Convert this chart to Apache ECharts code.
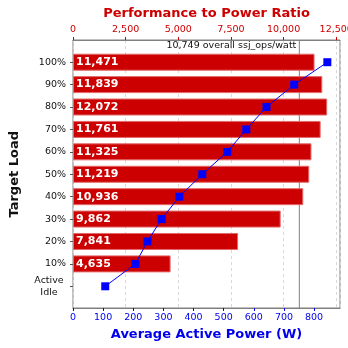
<!DOCTYPE html>
<html><head><meta charset="utf-8">
<script src="https://cdn.jsdelivr.net/npm/echarts@6/dist/echarts.min.js"></script>
<style>html,body{margin:0;padding:0;background:#fff}#c{width:348px;height:348px}</style>
</head><body><div id="c"></div>
<script>
var categories = ['100%', '90%', '80%', '70%', '60%', '50%', '40%', '30%', '20%', '10%', 'Active Idle'];
var ratioValues = [11471, 11839, 12072, 11761, 11325, 11219, 10936, 9862, 7841, 4635, null];
var powerValues = [844, 734, 642, 575, 512, 429, 353, 294, 247, 207, 107];
var overallRatio = 10749;
var powerTicks = {min: 0, max: 886, interval: 100};
var ratioTicks = {min: 0, max: 12680, interval: 2500};

var FONT = 'DejaVu Sans';
var chart = echarts.init(document.getElementById('c'), null, {renderer: 'canvas'});
function fmt(v){ return v.toLocaleString('en-US'); }

var option = {
  animation: false,
  backgroundColor: '#fff',
  textStyle: {fontFamily: FONT},
  grid: [
    {left: 73, right: 8, top: 40, bottom: 40, show: true, borderColor: '#808080', borderWidth: 1, backgroundColor: 'transparent', containLabel: false, outerBoundsMode: 'none'},
    {left: 73, right: 8, top: 51, bottom: 50.5, containLabel: false, outerBoundsMode: 'none'}
  ],
  xAxis: [
    {gridIndex: 0, type: 'value', position: 'bottom', min: powerTicks.min, max: powerTicks.max, interval: powerTicks.interval,
     axisLine: {show: true, lineStyle: {color: '#808080'}},
     axisTick: {show: true, length: 3, lineStyle: {color: '#0000ee'}},
     axisLabel: {color: '#0000ee', fontSize: 9.5, fontFamily: FONT, margin: 5, showMaxLabel: false},
     splitLine: {show: false},
     name: 'Average Active Power (W)', nameLocation: 'middle', nameGap: 20,
     nameTextStyle: {color: '#0000ee', fontWeight: 'bold', fontSize: 13, fontFamily: FONT, verticalAlign: 'top'}},
    {gridIndex: 0, type: 'value', position: 'top', min: ratioTicks.min, max: ratioTicks.max, interval: ratioTicks.interval,
     axisLine: {show: true, lineStyle: {color: '#808080'}},
     axisTick: {show: true, length: 3, lineStyle: {color: '#cc0000'}},
     axisLabel: {color: '#cc0000', fontSize: 9.5, fontFamily: FONT, margin: 5, showMaxLabel: false, formatter: function(v){return fmt(v);}},
     splitLine: {show: true, lineStyle: {color: '#d8d8d8', type: [3, 3]}},
     name: 'Performance to Power Ratio', nameLocation: 'middle', nameGap: 20,
     nameTextStyle: {color: '#cc0000', fontWeight: 'bold', fontSize: 13, fontFamily: FONT, verticalAlign: 'bottom'}},
    {gridIndex: 1, type: 'value', position: 'bottom', min: powerTicks.min, max: powerTicks.max, show: false},
    {gridIndex: 1, type: 'value', position: 'top', min: ratioTicks.min, max: ratioTicks.max, show: false}
  ],
  yAxis: [
    {gridIndex: 0, type: 'value', min: 0, max: 1, show: false, splitLine: {show: false}},
    {gridIndex: 1, type: 'category', data: categories, inverse: true,
     axisLine: {show: false},
     axisTick: {show: true, length: 3, alignWithLabel: true, lineStyle: {color: '#555'}},
     axisLabel: {color: '#111', fontSize: 9.5, fontFamily: FONT, margin: 7,
       formatter: function(v){ if (v === 'Active Idle') return '{c|Active}\n{c|Idle}'; return v; },
       rich: {c: {width: 34, align: 'center', fontSize: 9.5, fontFamily: FONT, color: '#111', lineHeight: 12}}},
     splitLine: {show: false},
     name: 'Target Load', nameLocation: 'middle', nameGap: 46, nameRotate: 90,
     nameTextStyle: {color: '#111', fontWeight: 'bold', fontSize: 13, fontFamily: FONT}}
  ],
  series: [
    {type: 'line', xAxisIndex: 1, yAxisIndex: 0, data: [[overallRatio, 0], [overallRatio, 1]], showSymbol: false,
     lineStyle: {color: '#808080', width: 1}, silent: true, z: 1},
    {type: 'bar', xAxisIndex: 3, yAxisIndex: 1, barWidth: 17,
     data: ratioValues.map(function(v, i){ return [v, categories[i]]; }),
     itemStyle: {color: '#cc0000', borderColor: '#e36a6a', borderWidth: 1},
     label: {show: true, position: 'insideLeft', distance: 3, color: '#fff', fontWeight: 'bold', fontSize: 11, fontFamily: FONT,
       formatter: function(p){ var v = p.value[0]; return v == null ? '' : fmt(v); }}, z: 2},
    {type: 'line', xAxisIndex: 2, yAxisIndex: 1, symbol: 'rect', symbolSize: 8,
     data: powerValues.map(function(v, i){ return [v, categories[i]]; }),
     itemStyle: {color: '#0000ff'}, lineStyle: {color: '#0000ff', width: 1}, z: 5}
  ]
};
chart.setOption(option);

var lx = chart.convertToPixel({xAxisIndex: 1}, overallRatio);
chart.setOption({graphic: [{type: 'text', x: lx - 3, y: 46, z: 10,
  style: {text: fmt(overallRatio) + ' overall ssj_ops/watt', fill: '#111', font: '9.5px "DejaVu Sans"', align: 'right', verticalAlign: 'middle'}}]});
</script></body></html>
